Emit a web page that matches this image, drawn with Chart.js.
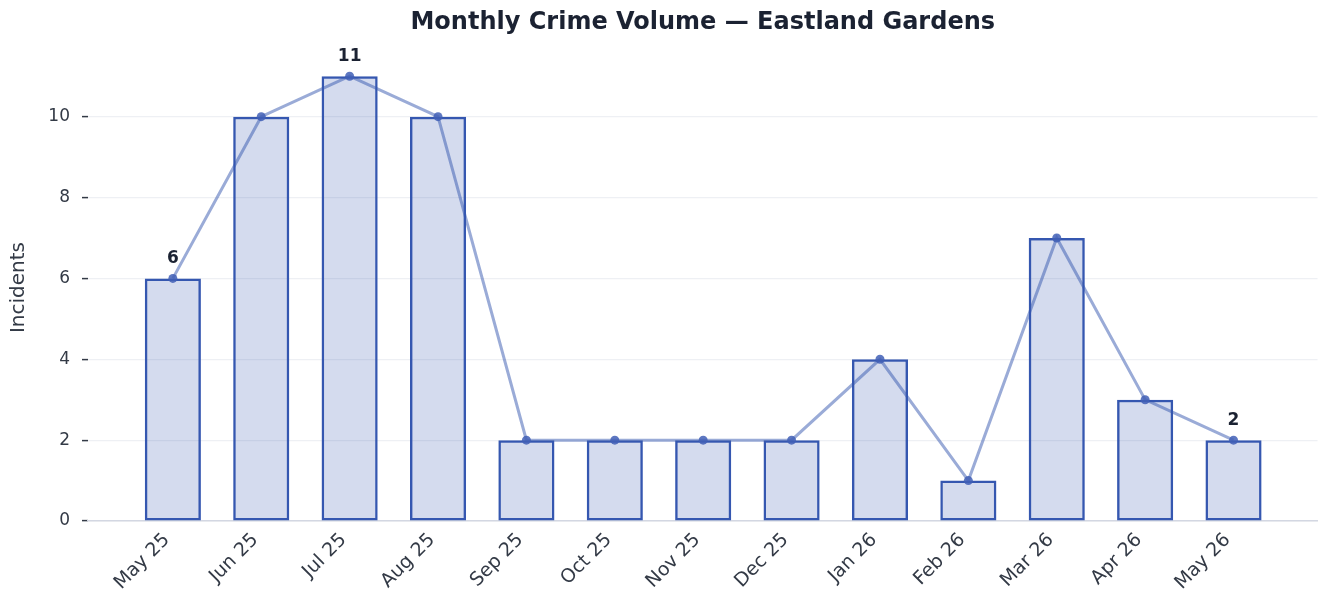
<!DOCTYPE html>
<html>
<head>
<meta charset="utf-8">
<script src="https://cdn.jsdelivr.net/npm/chart.js@4.4.1/dist/chart.umd.min.js"></script>
<style>
    html, body { margin: 0; padding: 0; background: #fff; }
    #wrap { width: 1322px; height: 592px; }
</style>
</head>
<body>
<div id="wrap"><canvas id="chart" width="1322" height="592"></canvas></div>
<script>
const months = ["May 25", "Jun 25", "Jul 25", "Aug 25", "Sep 25", "Oct 25", "Nov 25",
    "Dec 25", "Jan 26", "Feb 26", "Mar 26", "Apr 26", "May 26"];
const incidents = [6, 10, 11, 10, 2, 2, 2, 2, 4, 1, 7, 3, 2];
const labelledPoints = [0, 2, 12];
const yTicks = [0, 2, 4, 6, 8, 10];
const chartTitle = "Monthly Crime Volume — Eastland Gardens";

const FONT = "'DejaVu Sans', sans-serif";
const INK = "#1b2232";
const TEXT = "#333a46";

const points = incidents.map((v, i) => ({ x: i, y: v }));

// title centred over the plot area, plus bold numbers above a few points
const annotations = {
    id: "annotations",
    afterDatasetsDraw(chart) {
        const meta = chart.getDatasetMeta(0);
        const area = chart.chartArea;
        const ctx = chart.ctx;
        ctx.save();
        ctx.fillStyle = INK;
        ctx.textAlign = "center";

        ctx.font = "bold 24px " + FONT;
        ctx.textBaseline = "middle";
        ctx.fillText(chartTitle, (area.left + area.right) / 2, 23);

        ctx.font = "bold 17px " + FONT;
        ctx.textBaseline = "bottom";
        labelledPoints.forEach((i) => {
            const el = meta.data[i];
            ctx.fillText(String(incidents[i]), el.x, el.y - 11);
        });
        ctx.restore();
    },
};

new Chart(document.getElementById("chart").getContext("2d"), {
    type: "bar",
    data: {
        datasets: [
            {
                type: "line",
                data: points,
                order: 1,
                borderColor: "rgba(53, 87, 176, 0.5)",
                borderWidth: 3,
                pointRadius: 4.5,
                pointBackgroundColor: "rgba(65, 95, 182, 0.85)",
                pointBorderWidth: 0,
                tension: 0,
            },
            {
                type: "bar",
                data: points,
                order: 2,
                backgroundColor: "rgba(53, 87, 176, 0.21)",
                borderColor: "#3557b0",
                borderWidth: 2.5,
                borderSkipped: false,
                barPercentage: 0.635,
                categoryPercentage: 1,
            },
        ],
    },
    options: {
        responsive: false,
        animation: false,
        layout: { padding: { top: 54, right: 4, left: 0, bottom: 0 } },
        plugins: {
            legend: { display: false },
            tooltip: { enabled: false },
            title: { display: false },
        },
        scales: {
            x: {
                type: "linear",
                min: -0.96,
                max: 12.95,
                offset: false,
                grid: { display: false, drawTicks: false },
                border: { display: true, color: "#d3d7e2", width: 1.5 },
                afterFit(scale) { scale.height = 71; },
                afterBuildTicks(scale) {
                    scale.ticks = months.map((m, i) => ({ value: i }));
                },
                ticks: {
                    autoSkip: false,
                    maxRotation: 45,
                    minRotation: 45,
                    padding: 8,
                    labelOffset: -6,
                    color: TEXT,
                    font: { family: FONT, size: 19 },
                    callback: (v) => months[v],
                },
            },
            y: {
                min: 0,
                max: 11.55,
                grid: {
                    color: "#eef0f4",
                    lineWidth: 1.2,
                    tickColor: TEXT,
                    tickLength: 6,
                    tickWidth: 1.5,
                },
                border: { display: false },
                afterFit(scale) { scale.width = 88; },
                afterBuildTicks(scale) {
                    scale.ticks = yTicks.map((v) => ({ value: v }));
                },
                ticks: {
                    padding: 12,
                    color: TEXT,
                    font: { family: FONT, size: 17 },
                },
                title: {
                    display: true,
                    text: "Incidents",
                    color: TEXT,
                    font: { family: FONT, size: 20 },
                    padding: { top: 7, bottom: 0 },
                },
            },
        },
    },
    plugins: [annotations],
});
</script>
</body>
</html>
